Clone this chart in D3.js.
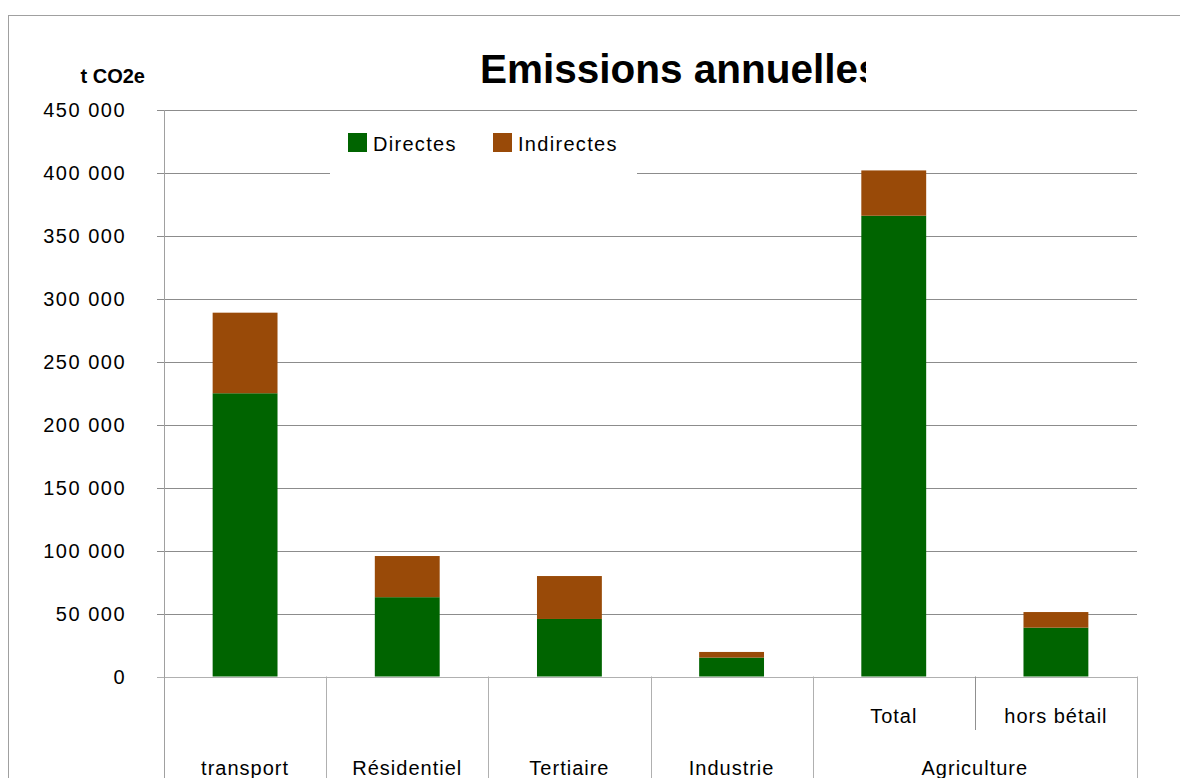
<!DOCTYPE html>
<html>
<head>
<meta charset="utf-8">
<script src="https://cdn.jsdelivr.net/npm/d3@7"></script>
<style>
  html, body { margin: 0; padding: 0; background: #fff; }
  svg { display: block; font-family: "Liberation Sans", Arial, sans-serif; }
</style>
</head>
<body>
<svg id="chart" width="1180" height="778"></svg>
<script>
// data
var categories = ["transport", "Résidentiel", "Tertiaire", "Industrie", "Total", "hors bétail"];
var groupLabels = ["transport", "Résidentiel", "Tertiaire", "Industrie", "Agriculture", "Agriculture"];
var directes = [225000, 63000, 45700, 15000, 366000, 38800];
var indirectes = [64000, 32700, 34100, 4500, 36000, 12400];
var yTicks = [0, 50000, 100000, 150000, 200000, 250000, 300000, 350000, 400000, 450000];
var seriesNames = ["Directes", "Indirectes"];
var colors = ["#006400", "#994A08"];

var svg = d3.select("#chart");
// (window.top is read-only, so plot* names)
var plotLeft = 164, plotRight = 1137, plotTop = 110, plotBottom = 676.5;

var x = d3.scaleBand().domain(categories).range([plotLeft, plotRight]).padding(0);
var y = d3.scaleLinear().domain([0, 450000]).range([plotBottom, plotTop]);

// outer frame
svg.append("rect")
  .attr("x", 8.5).attr("y", 15.5)
  .attr("width", 1190).attr("height", 800)
  .attr("fill", "none").attr("stroke", "#a0a0a0").attr("stroke-width", 1);

// gridlines + tick marks
svg.append("g").selectAll("line")
  .data(yTicks)
  .enter().append("line")
  .attr("x1", plotLeft - 7).attr("x2", plotRight)
  .attr("y1", function(d) { return Math.round(y(d)) + 0.5; })
  .attr("y2", function(d) { return Math.round(y(d)) + 0.5; })
  .attr("stroke", function(d) { return d === 0 ? "#b0b0b0" : "#8c8c8c"; })
  .attr("stroke-width", 1);

// y tick labels
var fmt = d3.format(",");
svg.append("g").selectAll("text")
  .data(yTicks)
  .enter().append("text")
  .attr("x", 126)
  .attr("y", function(d) { return y(d) + 7; })
  .attr("text-anchor", "end")
  .attr("font-size", 20)
  .attr("letter-spacing", 1.5)
  .attr("fill", "#000")
  .text(function(d) { return fmt(d).replace(/,/g, " "); });

// y axis line
svg.append("line")
  .attr("x1", plotLeft + 0.5).attr("x2", plotLeft + 0.5)
  .attr("y1", plotTop).attr("y2", 778)
  .attr("stroke", "#a0a0a0");

// stacked bars
var stackData = categories.map(function(c, i) {
  return { cat: c, Directes: directes[i], Indirectes: indirectes[i] };
});
var stacked = d3.stack().keys(seriesNames)(stackData);
var barW = x.bandwidth() * 0.4;

svg.append("g").selectAll("g")
  .data(stacked)
  .enter().append("g")
  .attr("fill", function(d, i) { return colors[i]; })
  .selectAll("rect")
  .data(function(d) { return d; })
  .enter().append("rect")
  .attr("x", function(d) { return x(d.data.cat) + (x.bandwidth() - barW) / 2; })
  .attr("width", barW)
  .attr("y", function(d) { return y(d[1]); })
  .attr("height", function(d) { return y(d[0]) - y(d[1]); });

// category axis separators
var sep = svg.append("g");
categories.forEach(function(c, i) {
  var xx = Math.round(x(c) + x.bandwidth()) + 0.5;
  var isInner = i < categories.length - 1 && groupLabels[i] === groupLabels[i + 1];
  sep.append("line")
    .attr("x1", xx).attr("x2", xx)
    .attr("y1", plotBottom).attr("y2", isInner ? 730 : 778)
    .attr("stroke", isInner ? "#909090" : "#b0b0b0");
});

// sub labels (only for categories in a group) and group labels
var groups = [];
groupLabels.forEach(function(g, i) {
  var last = groups[groups.length - 1];
  if (last && last.name === g) { last.cats.push(categories[i]); }
  else { groups.push({ name: g, cats: [categories[i]] }); }
});

groups.forEach(function(g) {
  var x0 = x(g.cats[0]), x1 = x(g.cats[g.cats.length - 1]) + x.bandwidth();
  if (g.cats.length > 1) {
    g.cats.forEach(function(c) {
      svg.append("text")
        .attr("x", x(c) + x.bandwidth() / 2)
        .attr("y", 723)
        .attr("text-anchor", "middle")
        .attr("font-size", 20)
        .attr("letter-spacing", 1)
        .text(c);
    });
  }
  svg.append("text")
    .attr("x", (x0 + x1) / 2)
    .attr("y", 775)
    .attr("text-anchor", "middle")
    .attr("font-size", 20)
    .attr("letter-spacing", 1)
    .text(g.name);
});

// legend (white box over the gridline)
var legend = svg.append("g");
legend.append("rect")
  .attr("x", 330).attr("y", 120).attr("width", 307).attr("height", 60)
  .attr("fill", "#fff");
var legX = [348, 493];
seriesNames.forEach(function(s, i) {
  legend.append("rect")
    .attr("x", legX[i]).attr("y", 133).attr("width", 19).attr("height", 19)
    .attr("fill", colors[i]);
  legend.append("text")
    .attr("x", legX[i] + 25).attr("y", 150.5)
    .attr("font-size", 20)
    .attr("letter-spacing", 1.3)
    .text(s);
});

// y axis unit
svg.append("text")
  .attr("x", 145).attr("y", 83)
  .attr("text-anchor", "end")
  .attr("font-size", 20)
  .attr("font-weight", "bold")
  .text("t CO2e");

// title, clipped like in the original
svg.append("clipPath").attr("id", "titleClip")
  .append("rect").attr("x", 400).attr("y", 20).attr("width", 466).attr("height", 80);
svg.append("text")
  .attr("clip-path", "url(#titleClip)")
  .attr("x", 480).attr("y", 83)
  .attr("font-size", 40.5)
  .attr("font-weight", "bold")
  .text("Emissions annuelles");
</script>
</body>
</html>
